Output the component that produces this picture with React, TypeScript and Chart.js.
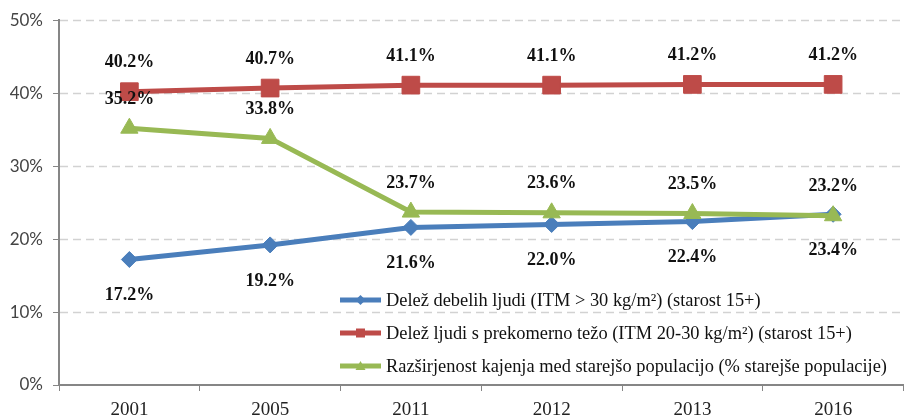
import React, { useEffect, useRef } from "react";
import { Chart, registerables } from "chart.js";

Chart.register(...registerables);

const years = ["2001", "2005", "2011", "2012", "2013", "2016"];
const obese = [17.2, 19.2, 21.6, 22.0, 22.4, 23.4];
const overweight = [40.2, 40.7, 41.1, 41.1, 41.2, 41.2];
const smoking = [35.2, 33.8, 23.7, 23.6, 23.5, 23.2];
const seriesNames = [
  "Delež debelih ljudi (ITM > 30 kg/m²) (starost 15+)",
  "Delež ljudi s prekomerno težo (ITM 20-30 kg/m²) (starost 15+)",
  "Razširjenost kajenja med starejšo populacijo (% starejše populacije)",
];
const yTicks = [0, 10, 20, 30, 40, 50];

const COLORS = ["#4A7EBB", "#BE4B48", "#98B954"];
const LABEL_SIDE = [1, -1, -1]; // 1 = below, -1 = above

const gridPlugin = {
  id: "dashedGrid",
  beforeDatasetsDraw(chart: any) {
    const ctx = chart.ctx;
    const area = chart.chartArea;
    const y = chart.scales.y;
    ctx.save();
    ctx.strokeStyle = "#d2d2d2";
    ctx.lineWidth = 1.5;
    ctx.setLineDash([8, 5]);
    yTicks.forEach((v) => {
      if (v === 0) return;
      const py = Math.round(y.getPixelForValue(v)) + 0.5;
      ctx.beginPath();
      ctx.moveTo(area.left + 1, py);
      ctx.lineTo(area.right, py);
      ctx.stroke();
    });
    ctx.restore();
  },
};

const labelPlugin = {
  id: "pointLabels",
  afterDatasetsDraw(chart: any) {
    const ctx = chart.ctx;
    ctx.save();
    ctx.font = "bold 18px 'Liberation Serif'";
    ctx.fillStyle = "#111";
    ctx.textAlign = "center";
    ctx.textBaseline = "middle";
    chart.data.datasets.forEach((ds: any, di: number) => {
      const meta = chart.getDatasetMeta(di);
      meta.data.forEach((pt: any, i: number) => {
        const side = LABEL_SIDE[di];
        const off = side > 0 ? 36 : 29;
        ctx.fillText(ds.data[i].toFixed(1) + "%", pt.x, pt.y + side * off);
      });
    });
    ctx.restore();
  },
};

const legendPlugin = {
  id: "customLegend",
  afterDraw(chart: any) {
    const ctx = chart.ctx;
    const area = chart.chartArea;
    const x0 = area.left + 281;
    const yStart = area.bottom - 85;
    ctx.save();
    ctx.font = "18.4px 'Liberation Serif'";
    ctx.textBaseline = "middle";
    ctx.textAlign = "left";
    chart.data.datasets.forEach((ds: any, di: number) => {
      const y = yStart + di * 33;
      ctx.strokeStyle = ds.borderColor;
      ctx.lineWidth = 5;
      ctx.beginPath();
      ctx.moveTo(x0, y);
      ctx.lineTo(x0 + 41, y);
      ctx.stroke();
      ctx.fillStyle = ds.borderColor;
      const cx = x0 + 20.5;
      ctx.beginPath();
      if (ds.pointStyle === "rectRot") {
        ctx.moveTo(cx, y - 5);
        ctx.lineTo(cx + 5, y);
        ctx.lineTo(cx, y + 5);
        ctx.lineTo(cx - 5, y);
      } else if (ds.pointStyle === "rect") {
        ctx.rect(cx - 4.5, y - 4.5, 9, 9);
      } else {
        ctx.moveTo(cx, y - 5);
        ctx.lineTo(cx + 5, y + 4);
        ctx.lineTo(cx - 5, y + 4);
      }
      ctx.closePath();
      ctx.fill();
      ctx.fillStyle = "#111";
      ctx.fillText(ds.label, x0 + 46, y + 1);
    });
    ctx.restore();
  },
};

export default function App() {
  const ref = useRef<HTMLCanvasElement>(null);
  useEffect(() => {
    if (!ref.current) return;
    const mk = (label: string, data: number[], color: string, style: string, r: number, order: number) => ({
      label,
      data,
      order,
      borderColor: color,
      backgroundColor: color,
      borderWidth: 5,
      pointStyle: style,
      pointRadius: r,
      pointHoverRadius: r,
      pointBorderWidth: 1,
      tension: 0,
    });
    const chart = new Chart(ref.current, {
      type: "line",
      data: {
        labels: years,
        datasets: [
          mk(seriesNames[0], obese, COLORS[0], "rectRot", 8, 3),
          mk(seriesNames[1], overweight, COLORS[1], "rect", 12.5, 2),
          mk(seriesNames[2], smoking, COLORS[2], "triangle", 10, 1),
        ],
      },
      plugins: [gridPlugin, labelPlugin, legendPlugin],
      options: {
        animation: false,
        responsive: false,
        maintainAspectRatio: false,
        layout: { padding: { top: 18, right: 2, left: 0, bottom: 0 } },
        plugins: { legend: { display: false }, tooltip: { enabled: false }, title: { display: false } },
        scales: {
          x: {
            offset: true,
            grid: { display: true, drawOnChartArea: false, drawTicks: true, tickLength: 6, tickColor: "#868686", offset: true },
            border: { display: true, color: "#868686", width: 2 },
            ticks: { color: "#222", font: { family: "'Liberation Serif'", size: 19 }, padding: 8 },
            afterFit: (s: any) => { s.height = 32; },
          },
          y: {
            min: 0,
            max: 50,
            afterBuildTicks: (s: any) => { s.ticks = yTicks.map((v) => ({ value: v })); },
            grid: { drawOnChartArea: false, tickColor: "#868686", tickLength: 6, drawTicks: true },
            border: { display: true, color: "#868686", width: 2 },
            ticks: {
              color: "#444",
              font: { family: "Lato", size: 17 },
              padding: 10,
              callback: (v: any) => v + "%",
            },
            afterFit: (s: any) => { s.width = 59; },
          },
        },
      },
    });
    return () => chart.destroy();
  }, []);
  return (
    <div style={{ position: "fixed", left: 0, top: 0, width: 917, height: 417, background: "#fff" }}>
      <canvas ref={ref} width={917} height={417} style={{ width: 917, height: 417 }} />
    </div>
  );
}
